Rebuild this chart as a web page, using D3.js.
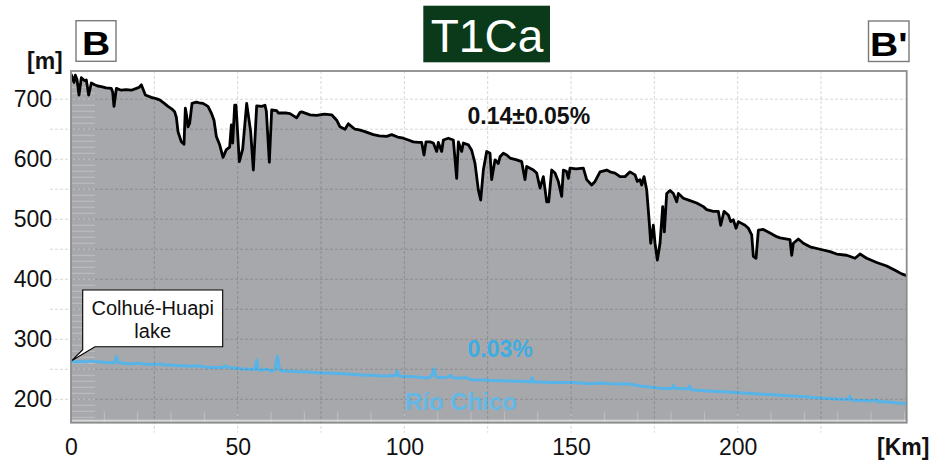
<!DOCTYPE html>
<html>
<head>
<meta charset="utf-8">
<script src="https://cdn.jsdelivr.net/npm/d3@7"></script>
<style>
  html, body { margin: 0; padding: 0; background: #fff; }
  svg { display: block; font-family: "Liberation Sans", Arial, Helvetica, sans-serif; }
</style>
</head>
<body>
<svg id="chart" width="937" height="464"></svg>
<script>
// Topographic profile B–B' along the T1Ca terrace (distance in km, elevation in m)
const groundProfile = [
  [0, 742], [0.5, 735], [0.9, 728], [1.3, 740], [1.8, 733], [2.4, 707], [3.1, 736], [3.6, 733],
  [4.1, 731], [4.6, 732], [5.3, 707], [6.1, 727], [7.1, 724], [8.0, 722], [9.1, 721], [10.5, 719],
  [12.1, 718], [12.5, 712], [12.9, 688], [13.3, 705], [13.6, 718], [15.1, 715], [16.5, 716], [18.1, 715],
  [19.6, 718], [20.5, 720], [21.1, 724], [22.3, 707], [24.1, 703], [25.5, 701], [26.6, 699], [28, 693],
  [29.1, 688], [30.2, 684], [31.1, 679], [31.6, 670], [32.1, 646], [33.1, 629], [33.9, 625], [34.3, 685],
  [34.7, 672], [35.1, 654], [35.6, 660], [36.3, 693], [37.6, 695], [38.5, 694], [39.6, 693], [41.1, 688],
  [42.1, 677], [42.9, 665], [43.6, 638], [44.6, 624], [45.6, 603], [46.6, 616], [47.6, 620], [48.1, 657],
  [48.5, 627], [49.1, 690], [49.5, 690], [50.5, 596], [51.5, 617], [52.7, 693], [53.9, 646], [54.7, 582],
  [55.7, 689], [57.2, 688], [58.2, 690], [58.6, 680], [59.5, 595], [60.2, 682], [61.7, 681], [62.2, 677],
  [64.7, 677], [65.7, 676], [67.7, 669], [68.7, 678], [69.2, 679], [71.7, 674], [73.7, 673], [76, 675],
  [78.2, 674], [79.7, 665], [80.7, 654], [82.2, 650], [83.2, 659], [85.2, 650], [86.5, 649], [88.2, 646],
  [90.7, 641], [92.5, 639], [94.7, 638], [96.2, 641], [98, 637], [99.7, 635], [101.2, 632], [102.7, 629],
  [104.2, 628], [105.2, 628], [105.9, 607], [106.5, 629], [107.7, 629], [108.7, 627], [109.7, 613], [110.2, 628],
  [111.2, 613], [111.7, 632], [113.2, 635], [114.7, 632], [115.2, 600], [115.7, 568], [116.2, 629], [117.2, 613],
  [117.7, 627], [119.2, 624], [120.2, 615], [121.2, 593], [122.2, 549], [122.9, 532], [123.7, 582], [124.7, 613],
  [125.7, 610], [126.2, 566], [127.2, 599], [128.2, 593], [128.7, 604], [129.7, 610], [130.7, 607], [131.7, 602],
  [133.7, 599], [135.2, 596], [136.2, 566], [136.7, 588], [138.7, 582], [139.7, 577], [140.7, 552], [141.7, 571],
  [142.7, 529], [143.3, 529], [144.2, 582], [145.2, 577], [146.2, 563], [147.2, 538], [147.7, 582], [148.6, 580],
  [149.2, 568], [149.7, 585], [151.5, 584], [153.7, 585], [154.7, 566], [156.2, 557], [157.2, 563], [158.7, 579],
  [160.7, 582], [161.7, 579], [163.2, 577], [164.7, 571], [166.2, 571], [167.7, 579], [169.2, 574], [169.9, 563],
  [170.7, 566], [171.2, 557], [171.9, 571], [172.7, 549], [173.5, 493], [173.9, 460], [174.7, 490], [175.2, 460],
  [175.9, 432], [176.7, 460], [177.5, 521], [178.0, 479], [178.7, 543], [179.7, 548], [180.7, 543], [181.7, 529],
  [182.2, 543], [183.7, 535], [185.7, 531], [187.7, 527], [189.7, 521], [190.7, 516], [192.7, 513], [194.2, 513],
  [194.9, 490], [195.9, 513], [197.2, 507], [197.9, 496], [198.7, 499], [199.5, 485], [200.2, 496], [202.2, 490],
  [203.2, 485], [204.2, 474], [204.7, 438], [205.5, 435], [206.2, 482], [207.7, 483], [209.7, 477], [211.7, 471],
  [212.7, 469], [215.7, 466], [216.0, 450], [216.2, 440], [216.7, 460], [218.2, 467], [219.7, 460], [221.7, 454],
  [224.7, 450], [227.7, 446], [229.7, 442], [232.7, 440], [235.2, 435], [236.7, 442], [238.7, 435], [241.7, 428],
  [244.7, 422], [247.2, 415], [249.2, 409], [250.7, 406]
];

// Río Chico channel profile
const riverProfile = [
  [0, 263], [1.5, 262], [3, 263], [4.5, 262], [5.8, 264], [7, 263], [9, 262], [11, 261], [13.0, 261],
  [13.6, 271], [14.2, 261], [16, 260], [18, 259], [20, 260], [22, 259], [24.7, 258], [26.7, 259], [28, 257],
  [30, 257], [32, 256], [34, 256], [36, 255], [38, 256], [40, 254], [42, 253], [44, 253], [45.5, 253],
  [46.2, 256], [47, 253], [49, 252], [51, 251], [53, 250], [55.2, 250], [55.7, 266], [56.2, 249], [57.6, 249],
  [59, 250], [60, 247], [61.2, 249], [61.9, 272], [62.6, 249], [63.2, 247], [65, 247], [68, 246], [70, 246],
  [72, 245], [74.7, 244], [77, 244], [80, 243], [83, 242], [85.7, 241], [88, 240], [91, 240], [93, 239],
  [95.3, 239], [97.4, 240], [97.8, 247], [98.3, 239], [100, 238], [102, 238], [104, 237], [106, 236],
  [107.4, 236], [108.3, 240], [108.9, 251], [109.5, 237], [111, 236], [113, 237], [114, 240], [114.5, 236],
  [117, 235], [118.5, 237], [119, 234], [121, 232], [124, 232], [127, 231], [130, 231], [133, 230], [136, 230],
  [138.0, 229], [138.3, 236], [138.8, 229], [141, 229], [144, 228], [147, 228], [150, 228], [153, 227],
  [156, 226], [159, 227], [162, 226], [164.7, 225.5], [166, 226], [168, 225], [170.7, 222], [173, 221],
  [176, 219], [178, 218], [180.2, 218], [180.7, 223], [181.2, 218], [183, 218], [184, 217], [185.2, 218],
  [185.6, 222], [186, 216], [188, 215], [191, 214], [194, 213], [197, 212], [200.2, 211], [203, 210],
  [206, 209], [209, 208], [212, 207], [215, 206], [218, 205], [221, 204], [224.7, 202], [228, 201], [231, 200],
  [233.3, 200], [233.6, 205], [234, 199], [236, 198], [238, 198], [240, 197], [241.7, 199], [242, 196],
  [244, 196], [246, 195], [248, 194], [250.7, 193]
];

const xTickValues = [0, 50, 100, 150, 200];
const yTickValues = [200, 300, 400, 500, 600, 700];
const xGridValues = [25, 50, 75, 100, 125, 150, 175, 200, 225];
const yGridValues = [200, 250, 300, 350, 400, 450, 500, 550, 600, 650, 700];

const xDomain = [0, 250.7];
const yDomain = [161, 747];

const svg = d3.select("#chart");
const plot = { left: 71, right: 906.7, top: 71, bottom: 422.7 };

const x = d3.scaleLinear().domain(xDomain).range([plot.left, plot.right]);
const y = d3.scaleLinear().domain(yDomain).range([plot.bottom, plot.top]);

svg.append("defs").append("clipPath").attr("id", "plotClip")
  .append("rect")
  .attr("x", plot.left).attr("y", plot.top)
  .attr("width", plot.right - plot.left).attr("height", plot.bottom - plot.top);

// plot background
svg.append("rect")
  .attr("x", plot.left).attr("y", plot.top)
  .attr("width", plot.right - plot.left).attr("height", plot.bottom - plot.top)
  .attr("fill", "#fff");

const inner = svg.append("g").attr("clip-path", "url(#plotClip)");

// ground surface, filled down to the base of the plot
const area = d3.area()
  .x(d => x(d[0]))
  .y0(y(yDomain[0]))
  .y1(d => y(d[1]));
inner.append("path")
  .datum(groundProfile)
  .attr("d", area)
  .attr("fill", "#a7a8ab");

// grid
const grid = svg.append("g").attr("stroke", "rgba(0,0,0,0.16)").attr("stroke-width", 1)
  .attr("stroke-dasharray", "3,2");
grid.selectAll(".hg").data(yGridValues).join("line")
  .attr("x1", 50).attr("x2", plot.right)
  .attr("y1", d => y(d)).attr("y2", d => y(d));
grid.selectAll(".vg").data(xGridValues).join("line")
  .attr("x1", d => x(d)).attr("x2", d => x(d))
  .attr("y1", plot.top).attr("y2", plot.bottom + 10);

// minor ticks inside the frame (10 m and 10 km)
const minorY = d3.range(170, 747, 10);
const minorX = d3.range(10, 251, 10);
const minor = inner.append("g").attr("stroke", "rgba(255,255,255,0.28)").attr("stroke-width", 1);
minor.selectAll(".my").data(minorY).join("line")
  .attr("x1", plot.left).attr("x2", plot.left + 24)
  .attr("y1", d => y(d)).attr("y2", d => y(d));
minor.selectAll(".mx").data(minorX).join("line")
  .attr("x1", d => x(d)).attr("x2", d => x(d))
  .attr("y1", plot.bottom - 11).attr("y2", plot.bottom);
inner.append("line")
  .attr("x1", plot.left).attr("x2", plot.right)
  .attr("y1", plot.bottom - 2).attr("y2", plot.bottom - 2)
  .attr("stroke", "rgba(255,255,255,0.55)").attr("stroke-width", 2);

const line = d3.line().x(d => x(d[0])).y(d => y(d[1]));

// Río Chico
inner.append("path")
  .datum(riverProfile)
  .attr("d", line)
  .attr("fill", "none")
  .attr("stroke", "#56b4e9")
  .attr("stroke-width", 3)
  .attr("stroke-linejoin", "round");

// ground line
inner.append("path")
  .datum(groundProfile)
  .attr("d", line)
  .attr("fill", "none")
  .attr("stroke", "#000")
  .attr("stroke-width", 2.8)
  .attr("stroke-linejoin", "round");

// frame
svg.append("rect")
  .attr("x", plot.left).attr("y", plot.top)
  .attr("width", plot.right - plot.left).attr("height", plot.bottom - plot.top)
  .attr("fill", "none").attr("stroke", "#8c8c8c").attr("stroke-width", 1.8);

// axes
const xAxis = d3.axisBottom(x).tickValues(xTickValues).tickSize(0).tickPadding(0).tickFormat(d3.format("d"));
const gx = svg.append("g").attr("transform", `translate(0,${plot.bottom})`).call(xAxis);
gx.select(".domain").remove();
gx.selectAll("text").attr("font-size", 23).attr("fill", "#111").attr("dy", null).attr("y", 32)
  .attr("font-family", "Liberation Sans, Arial, sans-serif");

const yAxis = d3.axisLeft(y).tickValues(yTickValues).tickSize(0).tickPadding(0).tickFormat(d3.format("d"));
const gy = svg.append("g").attr("transform", "translate(52,0)").call(yAxis);
gy.select(".domain").remove();
gy.selectAll("text").attr("font-size", 23).attr("fill", "#111").attr("dy", "0.33em").attr("x", 0)
  .attr("font-family", "Liberation Sans, Arial, sans-serif");

// unit labels
svg.append("text").attr("x", 27).attr("y", 69).attr("font-size", 23).attr("font-weight", "bold")
  .attr("fill", "#111").text("[m]");
svg.append("text").attr("x", 877).attr("y", 455).attr("font-size", 23).attr("font-weight", "bold")
  .attr("fill", "#111").text("[Km]");

// section end markers
function endMarker(x0, y0, w, h, label) {
  svg.append("rect").attr("x", x0).attr("y", y0).attr("width", w).attr("height", h)
    .attr("fill", "#fff").attr("stroke", "#7a7a7a").attr("stroke-width", 1.4);
  svg.append("text")
    .attr("transform", `translate(${x0 + w / 2},${y0 + h - 6}) scale(1.15,1)`)
    .attr("text-anchor", "middle").attr("font-size", 34).attr("font-weight", "bold")
    .attr("fill", "#000").text(label);
}
endMarker(76, 20.7, 40, 40.6, "B");
endMarker(868.5, 21, 40.5, 40.5, "B'");

// title
svg.append("rect").attr("x", 423.3).attr("y", 5.7).attr("width", 126.7).attr("height", 56.6)
  .attr("fill", "#0b3a1a");
svg.append("text").attr("x", 487).attr("y", 51.7).attr("text-anchor", "middle")
  .attr("font-size", 46).attr("fill", "#fff").text("T1Ca");

// gradients
svg.append("text").attr("x", 467.5).attr("y", 124).attr("font-size", 23).attr("font-weight", "bold")
  .attr("fill", "#111").text("0.14±0.05%");
svg.append("text").attr("x", 467.5).attr("y", 356.7).attr("font-size", 23).attr("font-weight", "bold")
  .attr("fill", "#3badE2").text("0.03%");
svg.append("text").attr("x", 405).attr("y", 410).attr("font-size", 24).attr("font-weight", "bold")
  .attr("fill", "#62b8e7").text("Río Chico");

// lake callout pointing at the head of the river profile
const tip = [x(riverProfile[0][0]) + 1, y(riverProfile[0][1]) - 1];
const bx0 = 82.7, bx1 = 222.7, by0 = 290, by1 = 346.7;
svg.append("path")
  .attr("d", `M${bx0},${by0} H${bx1} V${by1} H95 L${tip[0]},${tip[1]} L${bx0},${by1 + 3} Z`)
  .attr("fill", "#fff").attr("stroke", "#000").attr("stroke-width", 1.1);
svg.append("text").attr("x", (bx0 + bx1) / 2).attr("y", 315).attr("text-anchor", "middle")
  .attr("font-size", 20).attr("fill", "#111").text("Colhué-Huapi");
svg.append("text").attr("x", (bx0 + bx1) / 2).attr("y", 338).attr("text-anchor", "middle")
  .attr("font-size", 20).attr("fill", "#111").text("lake");
</script>
</body>
</html>
